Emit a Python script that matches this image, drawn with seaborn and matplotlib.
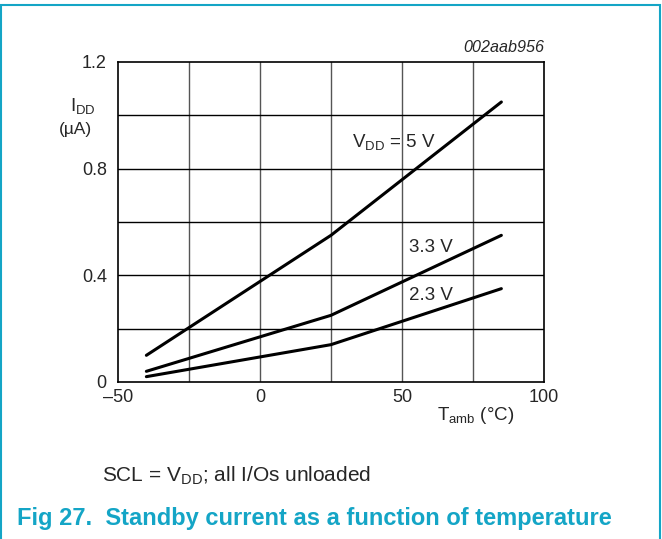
import pandas as pd
import matplotlib.pyplot as plt
import matplotlib.patches as mpatches
import seaborn as sns

# -------------------------------
# Data
# -------------------------------
temp_c = [-40, 25, 85]
idd_5v = [0.10, 0.55, 1.05]
idd_3v3 = [0.04, 0.25, 0.55]
idd_2v3 = [0.02, 0.14, 0.35]
series_names = ['5 V', '3.3 V', '2.3 V']

x_ticks = [-50, 0, 50, 100]
x_labels = ['\u201350', '0', '50', '100']
y_ticks = [0, 0.4, 0.8, 1.2]
y_labels = ['0', '0.4', '0.8', '1.2']

df = pd.DataFrame({
    'temp': temp_c * 3,
    'idd': idd_5v + idd_3v3 + idd_2v3,
    'vdd': [n for n in series_names for _ in temp_c],
})

# -------------------------------
# Style
# -------------------------------
sns.set_style('white')
plt.rcParams['font.family'] = ['Liberation Sans', 'DejaVu Sans']
plt.rcParams['mathtext.fontset'] = 'custom'
plt.rcParams['mathtext.rm'] = 'Liberation Sans'
plt.rcParams['mathtext.it'] = 'Liberation Sans:italic'

cyan = '#14A5C6'

fig = plt.figure(figsize=(6.62, 5.39), dpi=100)
ax = fig.add_axes([0.1782, 0.2913, 0.6435, 0.5937])

sns.lineplot(data=df, x='temp', y='idd', hue='vdd', palette=['black'] * 3,
             legend=False, linewidth=2.2, ax=ax)

ax.set_xlim(-50, 100)
ax.set_ylim(0, 1.2)

# grid every 25 degC / 0.2 uA, labels only on every other
for gx in range(-25, 100, 25):
    ax.axvline(gx, color='#555555', linewidth=1.0, zorder=0)
for gy in [0.2, 0.4, 0.6, 0.8, 1.0]:
    ax.axhline(gy, color='black', linewidth=1.0, zorder=0)

ax.set_xticks(x_ticks)
ax.set_xticklabels(x_labels)
ax.set_yticks(y_ticks)
ax.set_yticklabels(y_labels)
ax.tick_params(length=0, labelsize=13)
ax.tick_params(axis='y', pad=8)
ax.tick_params(axis='x', pad=5)
for s in ax.spines.values():
    s.set_color('black')
    s.set_linewidth(1.2)
ax.set_xlabel('')
ax.set_ylabel('')

# axis labels and annotations
ax.text(-67, 1.035, r'$\mathregular{I_{DD}}$', fontsize=13.5, ha='left', va='center',
        clip_on=False)
ax.text(-65, 0.945, '(\u00b5A)', fontsize=12.5, ha='center', va='center', clip_on=False)
ax.text(89.5, -0.125, r'$\mathregular{T_{amb}}$ (°C)', fontsize=13.5, ha='right',
        va='center', clip_on=False)
ax.text(100, 1.255, '002aab956', fontsize=11.6, style='italic', ha='right', va='center',
        clip_on=False)

ax.text(32.5, 0.90, r'$\mathregular{V_{DD}}$ = 5 V', fontsize=13.5, ha='left', va='center')
ax.text(52.5, 0.505, '3.3 V', fontsize=13.5, ha='left', va='center')
ax.text(52.5, 0.325, '2.3 V', fontsize=13.5, ha='left', va='center')

fig.text(102 / 662, 1 - 476 / 539, r'SCL = $\mathregular{V_{DD}}$; all I/Os unloaded',
         fontsize=15, ha='left', va='center')
fig.text(17 / 662, 1 - 518 / 539, 'Fig 27.  Standby current as a function of temperature',
         fontsize=17, fontweight='bold', color=cyan, ha='left', va='center')

# cyan frame (top, left, right)
fig.add_artist(mpatches.Rectangle((0.002, -0.05), 0.995, 1.04, transform=fig.transFigure,
                                  fill=False, edgecolor=cyan, linewidth=1.5))

fig.savefig('out.png', dpi=100)
